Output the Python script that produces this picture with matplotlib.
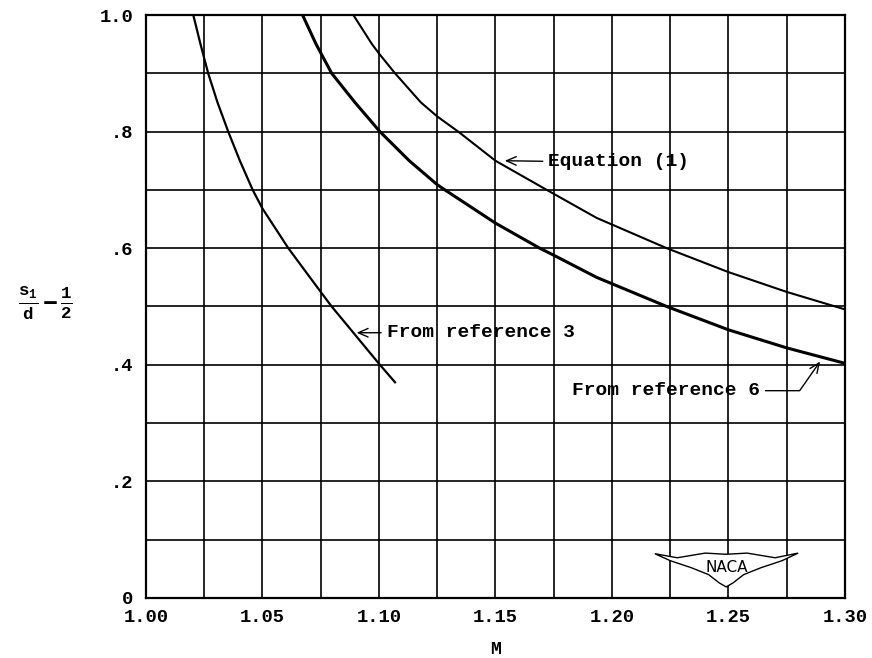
from matplotlib import pyplot as plt
from matplotlib.patches import Polygon
import numpy as np

# values
m_ref3 = [1.0203, 1.0234, 1.0267, 1.0307, 1.0353, 1.0403, 1.0458, 1.050, 1.0611, 1.075, 1.0797, 1.1004, 1.1069]
s_ref3 = [1.0, 0.95, 0.9, 0.85, 0.8, 0.75, 0.7, 0.668, 0.6, 0.525, 0.5, 0.4, 0.370]

m_ref6 = [1.0672, 1.0730, 1.0797, 1.0897, 1.1004, 1.1130, 1.125, 1.1283, 1.15, 1.1690, 1.175, 1.1934,
          1.2235, 1.25, 1.275, 1.30]
s_ref6 = [1.0, 0.95, 0.9, 0.85, 0.8, 0.75, 0.709, 0.7, 0.643, 0.6, 0.588, 0.55,
          0.5, 0.460, 0.429, 0.4025]

m_eq1 = [1.0890, 1.0970, 1.10, 1.1069, 1.1180, 1.125, 1.134, 1.15, 1.172, 1.1934, 1.2235, 1.25, 1.275, 1.30]
s_eq1 = [1.0, 0.95, 0.934, 0.9, 0.85, 0.826, 0.8, 0.750, 0.7, 0.652, 0.6, 0.559, 0.525, 0.495]

x_ticks = [1.00, 1.05, 1.10, 1.15, 1.20, 1.25, 1.30]
x_labels = ['1.00', '1.05', '1.10', '1.15', '1.20', '1.25', '1.30']
y_ticks = [0, 0.2, 0.4, 0.6, 0.8, 1.0]
y_labels = ['0', '.2', '.4', '.6', '.8', '1.0']

mono = 'Liberation Mono'
plt.rcParams['font.family'] = mono
plt.rcParams['font.weight'] = 'bold'
plt.rcParams['axes.labelweight'] = 'bold'
plt.rcParams['mathtext.fontset'] = 'custom'
plt.rcParams['mathtext.rm'] = mono + ':bold'
plt.rcParams['mathtext.it'] = mono + ':bold'
plt.rcParams['mathtext.bf'] = mono + ':bold'

fig = plt.figure(figsize=(8.72, 6.58), dpi=100)
ax = fig.add_axes([0.1674, 0.0912, 0.8016, 0.886])

ax.plot(m_ref3, s_ref3, color='black', lw=1.6)
ax.plot(m_ref6, s_ref6, color='black', lw=2.2)
ax.plot(m_eq1, s_eq1, color='black', lw=1.5)

ax.set_xlim(1.00, 1.30)
ax.set_ylim(0, 1.0)
ax.set_xticks(x_ticks)
ax.set_xticklabels(x_labels)
ax.set_yticks(y_ticks)
ax.set_yticklabels(y_labels)
ax.set_xticks(np.arange(1.025, 1.30, 0.05), minor=True)
ax.set_yticks(np.arange(0.1, 1.0, 0.2), minor=True)
ax.tick_params(which='both', length=0, labelsize=13.5)
ax.tick_params(axis='x', pad=8)
ax.tick_params(axis='y', pad=9)
ax.grid(True, which='both', color='black', lw=1.2)
ax.set_axisbelow(True)
for sp in ax.spines.values():
    sp.set_linewidth(1.6)

ax.set_xlabel('M', fontsize=13, fontweight='bold', labelpad=11)
fig.text(0.052, 0.539, r'$\frac{s_1}{d} - \frac{1}{2}$', fontsize=18, ha='center', va='center')

arrow = dict(arrowstyle='->,head_length=0.5,head_width=0.22', color='black', lw=1.0, shrinkA=2, shrinkB=0)
ax.annotate('Equation (1)', xy=(1.154, 0.750), xytext=(1.1727, 0.749), fontsize=14,
            ha='left', va='center', arrowprops=dict(arrow, relpos=(0, 0.5)))
ax.annotate('From reference 3', xy=(1.0904, 0.455), xytext=(1.1033, 0.455), fontsize=14,
            ha='left', va='center', arrowprops=dict(arrow, relpos=(0, 0.5)))
ax.annotate('From reference 6', xy=(1.2893, 0.4055), xytext=(1.2635, 0.3556), fontsize=14,
            ha='right', va='center',
            arrowprops=dict(arrow, relpos=(1, 0.5), connectionstyle='angle,angleA=0,angleB=55,rad=0'))

# NACA wing logo
wing = [(0.728, 0.076), (0.76, 0.069), (0.80, 0.077), (0.83, 0.075), (0.86, 0.077), (0.90, 0.069),
        (0.933, 0.077), (0.91, 0.064), (0.88, 0.052), (0.855, 0.040), (0.84, 0.026), (0.83, 0.019),
        (0.82, 0.026), (0.805, 0.040), (0.78, 0.052), (0.75, 0.064)]
ax.add_patch(Polygon(wing, closed=True, transform=ax.transAxes, facecolor='white',
                     edgecolor='black', lw=1.0, zorder=5))
ax.text(0.831, 0.053, 'NACA', transform=ax.transAxes, family='DejaVu Sans', weight='normal',
        fontsize=11, ha='center', va='center', zorder=6)

plt.savefig('out.png', dpi=100)
